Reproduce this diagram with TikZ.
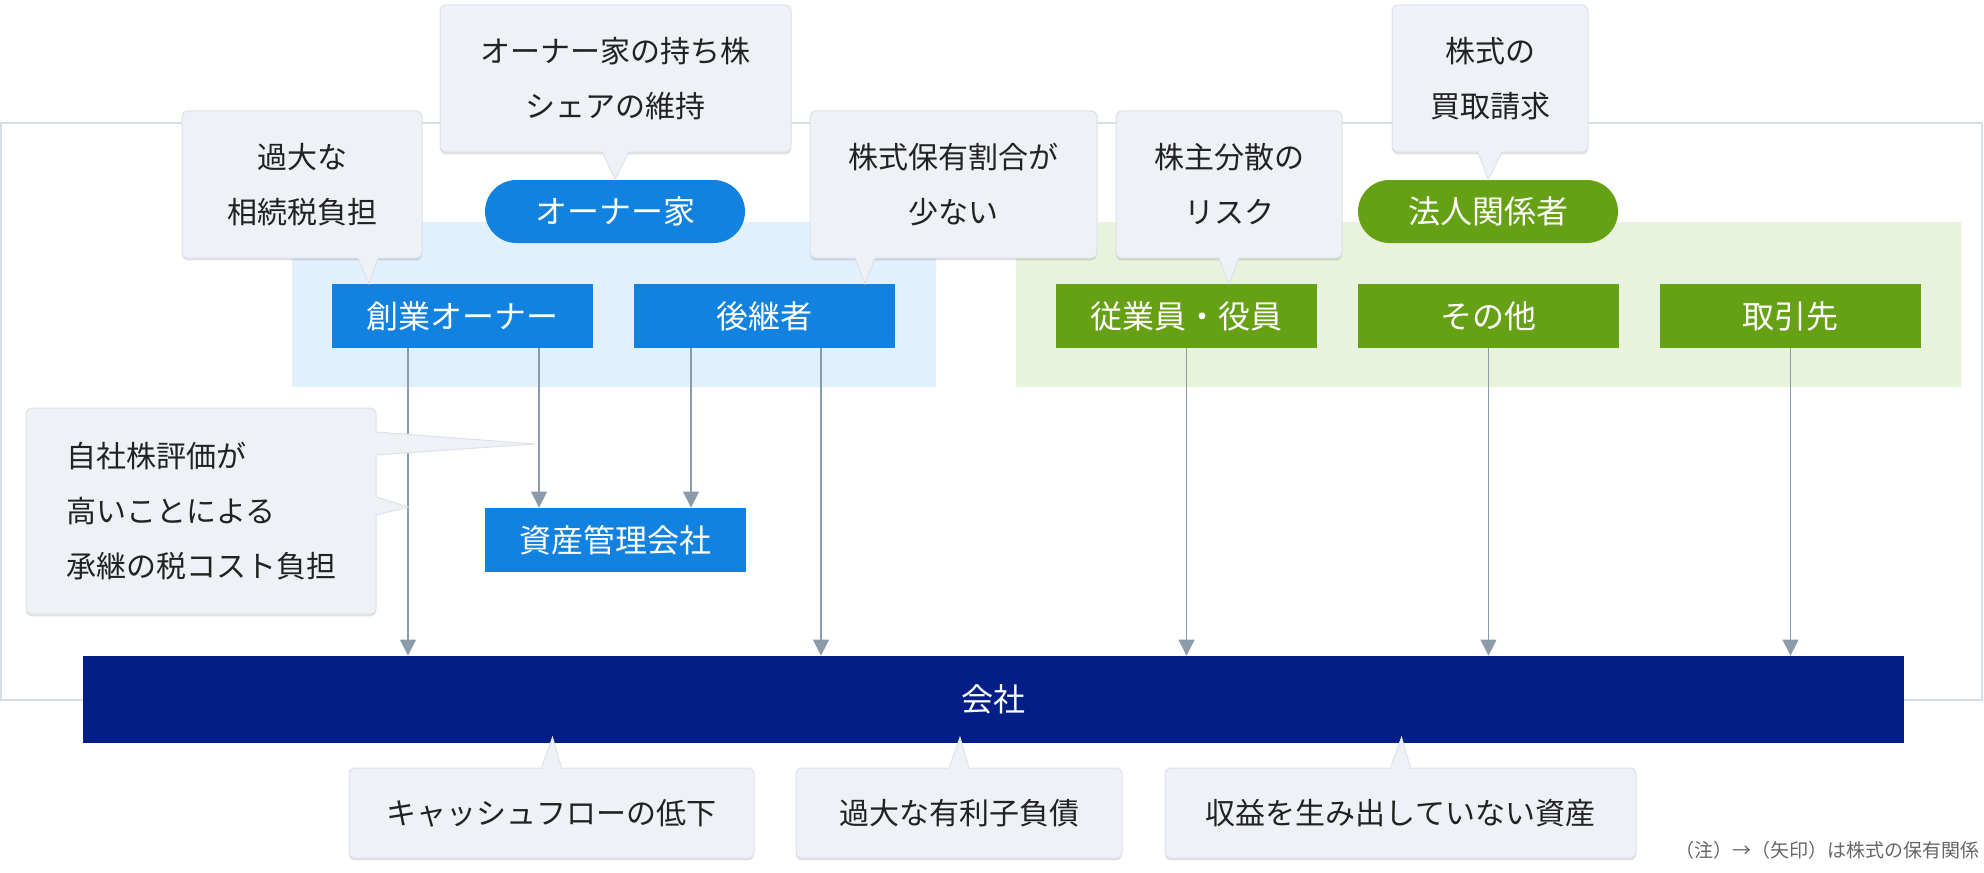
\documentclass[tikz,border=0pt]{standalone}
\usepackage{fontspec}
\setmainfont{Noto Sans CJK JP}
\usetikzlibrary{arrows.meta}
\usetikzlibrary{calc}
\usetikzlibrary{shadows}

\definecolor{ownblue}{RGB}{18,130,224}
\definecolor{corpgreen}{RGB}{102,160,20}
\definecolor{navy}{RGB}{4,30,135}
\definecolor{bluebg}{RGB}{224,240,252}
\definecolor{greenbg}{RGB}{233,242,220}
\definecolor{framegray}{RGB}{214,222,228}
\definecolor{arrgray}{RGB}{140,155,170}
\definecolor{bubblefill}{RGB}{238,241,245}
\definecolor{bubbleline}{RGB}{220,226,232}
\definecolor{inkdark}{RGB}{34,34,34}

\begin{document}
\begin{tikzpicture}[x=0.5pt,y=-0.5pt,
  bluebox/.style={fill=ownblue,text=white,minimum width=130.5pt,minimum height=32pt,inner sep=0pt,font=\fontsize{16}{16}\selectfont},
  greenbox/.style={bluebox,fill=corpgreen},
  bluepill/.style={bluebox,minimum width=130pt,minimum height=31.5pt,rounded corners=15.75pt},
  greenpill/.style={bluepill,fill=corpgreen},
  bubble/.style={fill=bubblefill,draw=bubbleline,line width=0.5pt,rounded corners=3pt,inner sep=0pt,text=inkdark,align=center,
    font=\fontsize{15}{27.5}\selectfont,drop shadow={shadow xshift=0pt,shadow yshift=-1.2pt,opacity=0.12,fill=black}},
  tailfill/.style={fill=bubblefill},
  tailline/.style={draw=bubbleline,line width=0.5pt},
  arr/.style={draw=arrgray,line width=0.6pt,-{Triangle[width=8pt,length=8pt]}}]
\useasboundingbox (0,0) rectangle (1984,872);

% frame and groups
\draw[framegray,line width=0.75pt] (1,123) rectangle (1982,700);
\fill[bluebg] (292,222) rectangle (936,387);
\fill[greenbg] (1016,222) rectangle (1961,387);

% shareholders
\node[bluebox] (founder) at (462.5,316) {創業オーナー};
\node[bluebox] (heir) at (764.5,316) {後継者};
\node[bluepill] (family) at (615,211.5) {オーナー家};
\node[bluebox] (asset) at (615,540) {資産管理会社};
\node[greenbox] (staff) at (1186.5,316) {従業員・役員};
\node[greenbox] (other) at (1488.5,316) {その他};
\node[greenbox] (client) at (1790.5,316) {取引先};
\node[greenpill] (corp) at (1488,211.5) {法人関係者};
\node[bluebox,fill=navy,minimum width=910.5pt,minimum height=43.5pt] (kaisha) at (993.5,699.5) {会社};

% holdings
\coordinate (f1) at ($(founder.south)+(-54.5,0)$);
\coordinate (f2) at ($(asset.north)+(-76,0)$);
\coordinate (h1) at ($(asset.north)+(76,0)$);
\coordinate (h2) at ($(heir.south)+(56.5,0)$);
\draw[arr] (f1) -- (f1 |- kaisha.north);
\draw[arr] (founder.south -| f2) -- (f2);
\draw[arr] (heir.south -| h1) -- (h1);
\draw[arr] (h2) -- (h2 |- kaisha.north);
\draw[arr] (staff.south) -- (staff.south |- kaisha.north);
\draw[arr] (other.south) -- (other.south |- kaisha.north);
\draw[arr] (client.south) -- (client.south |- kaisha.north);

% issues
\node[bubble,minimum width=175.5pt,minimum height=73.5pt] (c1) at (615.5,78.5) {オーナー家の持ち株\\シェアの維持};
\fill[tailfill] ([xshift=-6.5pt,yshift=1pt]c1.south) -- (family.north) -- ([xshift=6.5pt,yshift=1pt]c1.south) -- cycle;
\draw[tailline] ([xshift=-6.5pt]c1.south) -- (family.north) -- ([xshift=6.5pt]c1.south);

\node[bubble,minimum width=120pt,minimum height=73.5pt] (c2) at (302,184.5) {過大な\\相続税負担};
\coordinate (t2) at ($(founder.north)+(-93.5,0)$);
\fill[tailfill] ([shift={(28pt,1pt)}]c2.south) -- (t2) -- ([shift={(38pt,1pt)}]c2.south) -- cycle;
\draw[tailline] ([xshift=28pt]c2.south) -- (t2) -- ([xshift=38pt]c2.south);

\node[bubble,minimum width=143.5pt,minimum height=73.5pt] (c3) at (953.5,184.5) {株式保有割合が\\少ない};
\coordinate (t3) at ($(heir.north)+(100.5,0)$);
\fill[tailfill] ([shift={(-49.25pt,1pt)}]c3.south) -- (t3) -- ([shift={(-39.25pt,1pt)}]c3.south) -- cycle;
\draw[tailline] ([xshift=-49.25pt]c3.south) -- (t3) -- ([xshift=-39.25pt]c3.south);

\node[bubble,minimum width=113pt,minimum height=73.5pt] (c4) at (1229,184.5) {株主分散の\\リスク};
\coordinate (t4) at (c4.south |- staff.north);
\fill[tailfill] ([shift={(-5pt,1pt)}]c4.south) -- (t4) -- ([shift={(5pt,1pt)}]c4.south) -- cycle;
\draw[tailline] ([xshift=-5pt]c4.south) -- (t4) -- ([xshift=5pt]c4.south);

\node[bubble,minimum width=98pt,minimum height=73.5pt] (c5) at (1490,78.5) {株式の\\買取請求};
\fill[tailfill] ([shift={(-6pt,1pt)}]c5.south) -- (corp.north) -- ([shift={(6pt,1pt)}]c5.south) -- cycle;
\draw[tailline] ([xshift=-6pt]c5.south) -- (corp.north) -- ([xshift=6pt]c5.south);

\node[bubble,align=left,minimum width=175pt,minimum height=103pt] (c6) at (201,511) {自社株評価が\\高いことによる\\承継の税コスト負担};
\coordinate (t6a) at (535,444);
\coordinate (t6b) at (408,507);
\fill[tailfill] ([shift={(-1pt,39.5pt)}]c6.east) -- (t6a) -- ([shift={(-1pt,28pt)}]c6.east) -- cycle;
\draw[tailline] ([yshift=39.5pt]c6.east) -- (t6a) -- ([yshift=28pt]c6.east);
\fill[tailfill] ([shift={(-1pt,7pt)}]c6.east) -- (t6b) -- ([shift={(-1pt,-2pt)}]c6.east) -- cycle;
\draw[tailline] ([yshift=7pt]c6.east) -- (t6b) -- ([yshift=-2pt]c6.east);

\node[bubble,minimum width=202.5pt,minimum height=45pt] (c7) at (551.5,813) {キャッシュフローの低下};
\node[bubble,minimum width=163pt,minimum height=45pt] (c8) at (959,813) {過大な有利子負債};
\node[bubble,minimum width=235.5pt,minimum height=45pt] (c9) at (1400.5,813) {収益を生み出していない資産};
\foreach \c in {c7,c8,c9}{
  \coordinate (t) at ($(\c.north |- kaisha.south)+(1,-6)$);
  \fill[tailfill] ([shift={(-5pt,-1pt)}]\c.north) -- (t) -- ([shift={(5pt,-1pt)}]\c.north) -- cycle;
  \draw[tailline] ([xshift=-5pt]\c.north) -- (t) -- ([xshift=5pt]\c.north);
}

\node[anchor=east,text=black!60,font=\fontsize{9.5}{9.5}\selectfont,inner sep=0pt] (legend) at (1980,850) {（注）→（矢印）は株式の保有関係};
\end{tikzpicture}
\end{document}
